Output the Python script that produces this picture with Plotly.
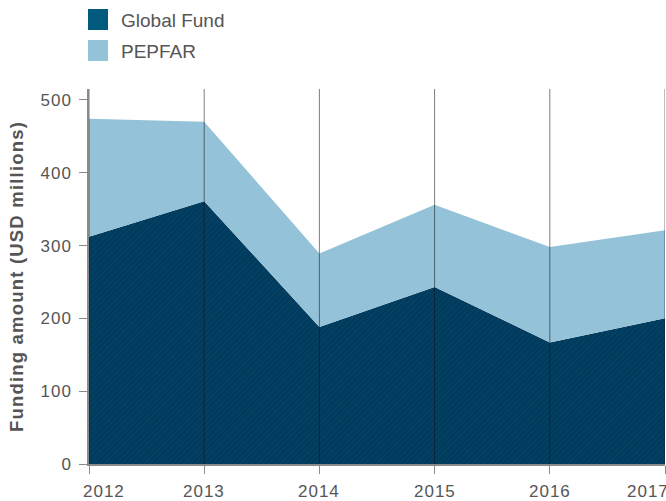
import plotly.graph_objects as go

years = [2012, 2013, 2014, 2015, 2016, 2017]
global_fund = [312, 361, 188, 243, 167, 200]
pepfar = [162, 109, 101, 113, 131, 121]
y_ticks = [0, 100, 200, 300, 400, 500]

DARK = "#003a5c"
LIGHT = "#94c2d8"
TXT = "#555555"
FONT = "Liberation Sans, Arial, sans-serif"

W, H = 666, 501
ML, MR, MT, MB = 89, 1, 89, 37
PW, PH = W - ML - MR, H - MT - MB

def px(x):
    return (x - ML) / PW

def py(y):
    return (H - MB - y) / PH

def spaced(t, ls=1):
    return f'<span style="letter-spacing:{ls}px">{t}</span>'

fig = go.Figure()
fig.add_trace(go.Scatter(
    x=years, y=global_fund, stackgroup="one", mode="none",
    fillcolor=DARK, name="Global Fund", showlegend=False, hoverinfo="skip",
    fillpattern=dict(shape="/", bgcolor=DARK, fgcolor="#0c4a6c", size=4, solidity=0.35),
))
fig.add_trace(go.Scatter(
    x=years, y=pepfar, stackgroup="one", mode="none",
    fillcolor=LIGHT, name="PEPFAR", showlegend=False, hoverinfo="skip",
))

shapes = []
for yr in years:
    shapes.append(dict(type="line", xref="x", yref="paper", x0=yr, x1=yr, y0=0, y1=1,
                       line=dict(color="rgba(20,20,20,0.55)", width=1), layer="above"))

annotations = []
# x tick labels (edge labels pulled inward as in the reference)
for i, yr in enumerate(years):
    shift = 15 if i == 0 else (-17 if i == len(years) - 1 else 0)
    annotations.append(dict(xref="x", yref="paper", x=yr, y=0, yanchor="top",
                            yshift=-16, xshift=shift, text=spaced(str(yr)),
                            showarrow=False, font=dict(family=FONT, size=17, color=TXT)))

# legend
legend_items = [("Global Fund", "#005a7e", 9), ("PEPFAR", LIGHT, 40)]
for name, col, top in legend_items:
    shapes.append(dict(type="rect", xref="paper", yref="paper",
                       x0=px(88), x1=px(108), y0=py(top + 21), y1=py(top),
                       fillcolor=col, line=dict(width=0)))
    annotations.append(dict(xref="paper", yref="paper", x=px(119), y=py(top + 11),
                            xanchor="left", yanchor="middle", text=name, showarrow=False,
                            font=dict(family=FONT, size=19, color=TXT)))

fig.update_layout(
    width=W, height=H,
    margin=dict(l=ML, r=MR, t=MT, b=MB, autoexpand=False),
    paper_bgcolor="white", plot_bgcolor="white",
    font=dict(family=FONT, color=TXT, size=17),
    shapes=shapes, annotations=annotations,
    hovermode=False,
    xaxis=dict(range=[2012, 2017], tickvals=years, showticklabels=False,
               showgrid=False, zeroline=False, showline=True, linecolor="#8a8a8a",
               linewidth=1.5, ticks="outside", ticklen=8, tickcolor="#8a8a8a",
               layer="above traces", automargin=False, fixedrange=True),
    yaxis=dict(range=[0, 515], tickvals=y_ticks, ticktext=[spaced(v) for v in y_ticks],
               showgrid=False, zeroline=False,
               showline=True, linecolor="#8a8a8a", linewidth=1.5, ticks="outside",
               ticklen=8, tickcolor="#8a8a8a", tickfont=dict(size=17, color=TXT),
               ticklabelstandoff=4,
               title=dict(text="<b>" + spaced("Funding amount (USD millions)", 1.2) + "</b>",
                          standoff=12, font=dict(size=18.5, color=TXT)),
               layer="above traces", automargin=False, fixedrange=True),
)

fig.write_html("out.html", config={"displayModeBar": False},
               post_script="document.body.style.margin='0';document.body.style.overflow='hidden';")
